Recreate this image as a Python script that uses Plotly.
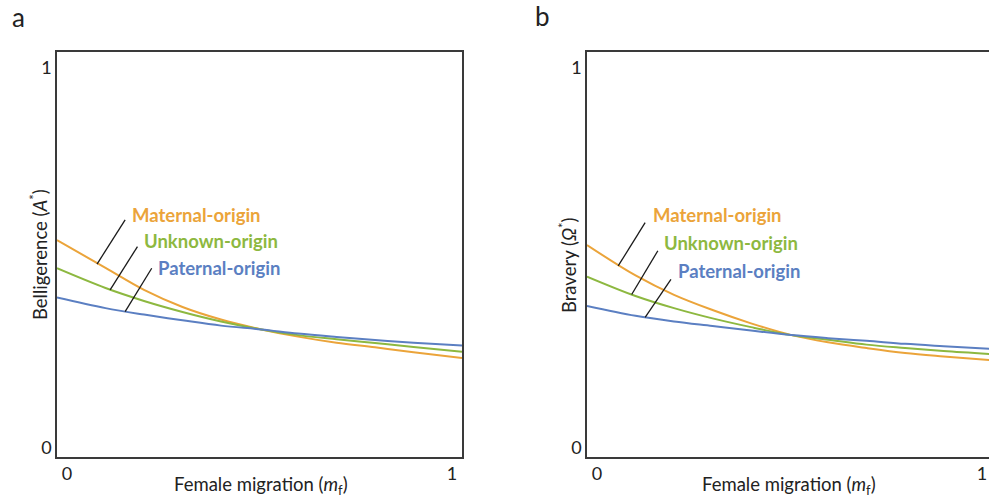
import plotly.graph_objects as go

# ---------------- data ----------------
mf = [-0.026, 0.1, 0.2, 0.3, 0.4, 0.505, 0.6, 0.7, 0.8, 0.9, 1.026]

# panel a: belligerence A*
a_maternal = [0.547, 0.474, 0.416, 0.371, 0.338, 0.312, 0.293, 0.277, 0.265, 0.252, 0.237]
a_unknown  = [0.473, 0.421, 0.387, 0.358, 0.333, 0.312, 0.297, 0.286, 0.276, 0.266, 0.253]
a_paternal = [0.396, 0.368, 0.351, 0.336, 0.322, 0.312, 0.301, 0.292, 0.284, 0.277, 0.270]

# panel b: bravery Omega*
b_maternal = [0.534, 0.454, 0.403, 0.363, 0.328, 0.297, 0.278, 0.263, 0.250, 0.241, 0.231]
b_unknown  = [0.451, 0.400, 0.368, 0.341, 0.318, 0.297, 0.285, 0.272, 0.263, 0.255, 0.247]
b_paternal = [0.374, 0.348, 0.333, 0.321, 0.309, 0.297, 0.289, 0.282, 0.274, 0.268, 0.261]

series_names = ["Maternal-origin", "Unknown-origin", "Paternal-origin"]
tick_vals = [0, 1]
tick_text = ["0", "1"]

# ---------------- style ----------------
COL = {"Maternal-origin": "#EBA43A",
       "Unknown-origin": "#8DB840",
       "Paternal-origin": "#5B7FC2"}
FONT = "Lato"
AXC = "#3a3a3a"
TXT = "#222222"
W, H = 989, 500

fig = go.Figure()
for ax, vals in (("", [a_maternal, a_unknown, a_paternal]),
                 ("2", [b_maternal, b_unknown, b_paternal])):
    for name, v in zip(series_names, vals):
        fig.add_trace(go.Scatter(x=mf, y=v, mode="lines", name=name,
                                 line=dict(color=COL[name], width=2, shape="spline", smoothing=1.0),
                                 xaxis="x" + ax, yaxis="y" + ax, showlegend=False,
                                 hoverinfo="skip"))

def px2paper_x(p):
    return p / W

def px2paper_y(p):
    return 1 - p / H

yrange = [-0.0237, 1.042]
axis_common = dict(showgrid=False, zeroline=False, showline=True, linecolor=AXC,
                   linewidth=1.5, ticks="", tickvals=tick_vals, ticktext=tick_text,
                   tickfont=dict(family=FONT, size=18, color=TXT))

fig.update_layout(
    width=W, height=H, margin=dict(l=0, r=0, t=0, b=0),
    paper_bgcolor="white", plot_bgcolor="white",
    xaxis=dict(domain=[px2paper_x(57), px2paper_x(462)], range=[-0.026, 1.026],
               anchor="y", mirror=True, **axis_common),
    yaxis=dict(domain=[px2paper_y(457), px2paper_y(52)], range=yrange,
               anchor="x", mirror=True, **axis_common),
    xaxis2=dict(domain=[px2paper_x(587), 1.0], range=[-0.026, 1.018],
                anchor="y2", mirror=True, **axis_common),
    yaxis2=dict(domain=[px2paper_y(457), px2paper_y(52)], range=yrange,
                anchor="x2", mirror=False, **axis_common),
)

annotations = []
shapes = []

# curve labels and leader lines (data coordinates)
labels = {
    "": [("Maternal-origin", 0.164, 0.613, (0.078, 0.484), (0.151, 0.600)),
         ("Unknown-origin", 0.194, 0.546, (0.112, 0.416), (0.183, 0.530)),
         ("Paternal-origin", 0.231, 0.473, (0.151, 0.359), (0.220, 0.473))],
    "2": [("Maternal-origin", 0.140, 0.613, (0.055, 0.479), (0.125, 0.593)),
          ("Unknown-origin", 0.169, 0.539, (0.090, 0.404), (0.158, 0.519)),
          ("Paternal-origin", 0.205, 0.466, (0.125, 0.344), (0.192, 0.444))],
}
for ax, items in labels.items():
    for name, lx, ly, p0, p1 in items:
        annotations.append(dict(x=lx, y=ly, xref="x" + ax, yref="y" + ax,
                                text="<b>%s</b>" % name, showarrow=False,
                                xanchor="left", yanchor="middle",
                                font=dict(family=FONT, size=18.5, color=COL[name])))
        shapes.append(dict(type="line", xref="x" + ax, yref="y" + ax,
                           x0=p0[0], y0=p0[1], x1=p1[0], y1=p1[1],
                           line=dict(color="#1a1a1a", width=1.3)))

def paper_text(xp, yp, text, size, angle=0):
    return dict(x=px2paper_x(xp), y=px2paper_y(yp), xref="paper", yref="paper",
                text=text, textangle=angle, showarrow=False,
                xanchor="center", yanchor="middle",
                font=dict(family=FONT, size=size, color=TXT))

annotations += [
    paper_text(38, 255, "Belligerence (<i>A</i><sup>*</sup>)", 18.5, -90),
    paper_text(567, 265, "Bravery (<i>Ω</i><sup>*</sup>)", 18.5, -90),
    paper_text(261, 485, "Female migration (<i>m</i><sub>f</sub>)", 18.5),
    paper_text(789, 485, "Female migration (<i>m</i><sub>f</sub>)", 18.5),
    paper_text(18, 17, "a", 26),
    paper_text(542, 16, "b", 26),
]

fig.update_layout(annotations=annotations, shapes=shapes)
fig.write_html("out.html")
